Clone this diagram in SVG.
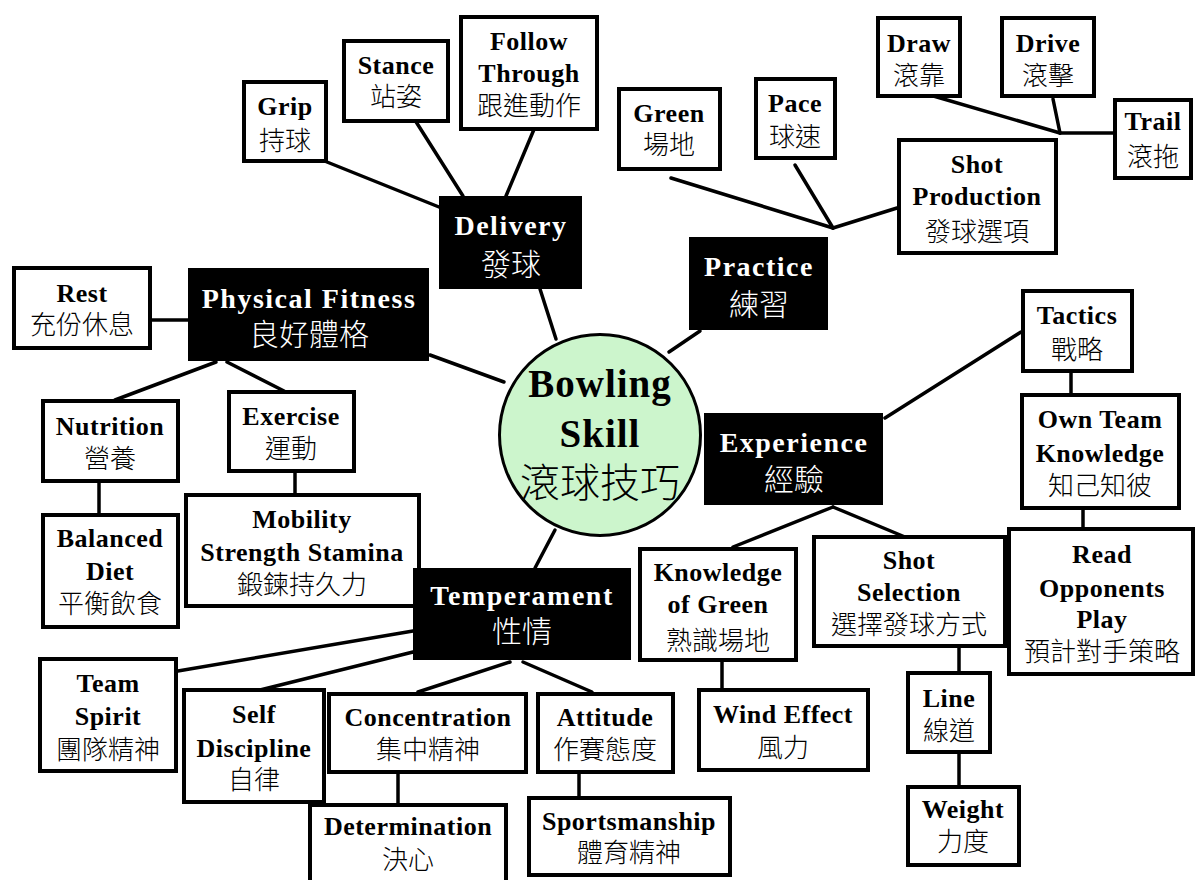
<svg xmlns="http://www.w3.org/2000/svg" width="1195" height="880" viewBox="0 0 1195 880">
<style>
.b{fill:#fff;stroke:#000;stroke-width:4}
.k{fill:#000}
.c line{stroke:#000;stroke-width:3.5;stroke-linecap:round}
.en{font-family:"Liberation Serif","Times New Roman",serif;font-weight:bold;font-size:26px;text-anchor:middle;letter-spacing:0.5px;fill:#000}
.zh{font-family:"Noto Sans CJK TC","Noto Sans CJK SC",sans-serif;font-weight:300;font-size:26px;text-anchor:middle;fill:#000}
.w{fill:#fff}
.ke{font-size:28px;letter-spacing:1.5px}
.kz{font-size:30px}
</style>
<rect width="1195" height="880" fill="#fff"/>
<g class="c" id="connectors">
<line x1="322" y1="160" x2="439" y2="207"/>
<line x1="413" y1="117" x2="463" y2="196"/>
<line x1="535" y1="127" x2="506" y2="196"/>
<line x1="540" y1="289" x2="556" y2="339"/>
<line x1="430" y1="355" x2="504" y2="382"/>
<line x1="700" y1="331" x2="669" y2="352"/>
<line x1="555" y1="530" x2="535" y2="568"/>
<line x1="671" y1="178" x2="833" y2="228"/>
<line x1="795" y1="165" x2="833" y2="228"/>
<line x1="833" y1="228" x2="897" y2="208"/>
<line x1="930" y1="95" x2="1060" y2="133"/>
<line x1="1053" y1="99" x2="1060" y2="133"/>
<line x1="1060" y1="133" x2="1113" y2="133"/>
<line x1="152" y1="320" x2="188" y2="320"/>
<line x1="216" y1="362" x2="115" y2="400"/>
<line x1="227" y1="362" x2="284" y2="391"/>
<line x1="99" y1="483" x2="99" y2="513"/>
<line x1="295" y1="473" x2="295" y2="493"/>
<line x1="885" y1="418" x2="1021" y2="332"/>
<line x1="1071" y1="373" x2="1071" y2="393"/>
<line x1="1083" y1="510" x2="1083" y2="527"/>
<line x1="833" y1="507" x2="733" y2="547"/>
<line x1="833" y1="507" x2="905" y2="537"/>
<line x1="722" y1="662" x2="722" y2="688"/>
<line x1="959" y1="648" x2="959" y2="671"/>
<line x1="959" y1="754" x2="959" y2="785"/>
<line x1="172" y1="672" x2="413" y2="631"/>
<line x1="256" y1="691" x2="413" y2="652"/>
<line x1="510" y1="662" x2="418" y2="692"/>
<line x1="523" y1="662" x2="592" y2="692"/>
<line x1="398" y1="774" x2="398" y2="803"/>
<line x1="579" y1="774" x2="579" y2="796"/>
</g>
<g id="grip"><rect class="b" x="244" y="82" width="82" height="79"/><text class="en" x="285" y="115">Grip</text><text class="zh" x="285" y="150">持球</text></g>
<g id="stance"><rect class="b" x="344" y="41" width="104" height="80"/><text class="en" x="396" y="74">Stance</text><text class="zh" x="396" y="106">站姿</text></g>
<g id="follow"><rect class="b" x="461" y="17" width="136" height="112"/><text class="en" x="529" y="50">Follow</text><text class="en" x="529" y="82">Through</text><text class="zh" x="529" y="115">跟進動作</text></g>
<g id="green"><rect class="b" x="619" y="89" width="101" height="80"/><text class="en" x="669" y="122">Green</text><text class="zh" x="669" y="154">場地</text></g>
<g id="pace"><rect class="b" x="756" y="79" width="79" height="79"/><text class="en" x="795" y="112">Pace</text><text class="zh" x="795" y="146">球速</text></g>
<g id="draw"><rect class="b" x="878" y="18" width="82" height="78"/><text class="en" x="919" y="52">Draw</text><text class="zh" x="919" y="85">滾靠</text></g>
<g id="drive"><rect class="b" x="1002" y="18" width="92" height="78"/><text class="en" x="1048" y="52">Drive</text><text class="zh" x="1048" y="85">滾擊</text></g>
<g id="trail"><rect class="b" x="1115" y="100" width="76" height="78"/><text class="en" x="1153" y="130">Trail</text><text class="zh" x="1153" y="166">滾拖</text></g>
<g id="shotprod"><rect class="b" x="899" y="140" width="157" height="113"/><text class="en" x="977" y="173">Shot</text><text class="en" x="977" y="205">Production</text><text class="zh" x="977" y="241">發球選項</text></g>
<g id="delivery"><rect class="k" x="439" y="196" width="143" height="93"/><text class="en w ke" x="511" y="235">Delivery</text><text class="zh w kz" x="511" y="275">發球</text></g>
<g id="practice"><rect class="k" x="689" y="237" width="139" height="93"/><text class="en w ke" x="759" y="276">Practice</text><text class="zh w kz" x="759" y="315">練習</text></g>
<g id="rest"><rect class="b" x="14" y="268" width="136" height="80"/><text class="en" x="82" y="302">Rest</text><text class="zh" x="82" y="334">充份休息</text></g>
<g id="fitness"><rect class="k" x="188" y="268" width="241" height="93"/><text class="en w ke" x="309" y="308">Physical Fitness</text><text class="zh w kz" x="309" y="345">良好體格</text></g>
<g id="nutrition"><rect class="b" x="43" y="401" width="135" height="80"/><text class="en" x="110" y="435">Nutrition</text><text class="zh" x="110" y="468">營養</text></g>
<g id="exercise"><rect class="b" x="229" y="392" width="125" height="79"/><text class="en" x="291" y="425">Exercise</text><text class="zh" x="291" y="458">運動</text></g>
<g id="diet"><rect class="b" x="43" y="515" width="135" height="112"/><text class="en" x="110" y="547">Balanced</text><text class="en" x="110" y="580">Diet</text><text class="zh" x="110" y="613">平衡飲食</text></g>
<g id="mobility"><rect class="b" x="186" y="495" width="233" height="111"/><text class="en" x="302" y="528">Mobility</text><text class="en" x="302" y="561">Strength Stamina</text><text class="zh" x="302" y="594">鍛鍊持久力</text></g>
<g id="skill"><circle cx="600" cy="435" r="100.5" fill="#ccf5cc" stroke="#000" stroke-width="3"/><text class="en" x="600" y="397" style="font-size:39px;letter-spacing:1px">Bowling</text><text class="en" x="600" y="447" style="font-size:39px;letter-spacing:1px">Skill</text><text class="zh" x="600" y="497" style="font-size:40px">滾球技巧</text></g>
<g id="experience"><rect class="k" x="704" y="413" width="179" height="92"/><text class="en w ke" x="794" y="452">Experience</text><text class="zh w kz" x="794" y="490">經驗</text></g>
<g id="tactics"><rect class="b" x="1023" y="291" width="109" height="80"/><text class="en" x="1077" y="324">Tactics</text><text class="zh" x="1077" y="359">戰略</text></g>
<g id="ownteam"><rect class="b" x="1022" y="395" width="157" height="113"/><text class="en" x="1100" y="428">Own Team</text><text class="en" x="1100" y="462">Knowledge</text><text class="zh" x="1100" y="495">知己知彼</text></g>
<g id="readopp"><rect class="b" x="1009" y="529" width="184" height="145"/><text class="en" x="1102" y="563">Read</text><text class="en" x="1102" y="597">Opponents</text><text class="en" x="1102" y="628">Play</text><text class="zh" x="1102" y="661">預計對手策略</text></g>
<g id="shotsel"><rect class="b" x="814" y="537" width="191" height="109"/><text class="en" x="909" y="569">Shot</text><text class="en" x="909" y="601">Selection</text><text class="zh" x="909" y="634">選擇發球方式</text></g>
<g id="kog"><rect class="b" x="640" y="549" width="156" height="111"/><text class="en" x="718" y="581">Knowledge</text><text class="en" x="718" y="613">of Green</text><text class="zh" x="718" y="650">熟識場地</text></g>
<g id="wind"><rect class="b" x="699" y="690" width="169" height="80"/><text class="en" x="783" y="723">Wind Effect</text><text class="zh" x="783" y="757">風力</text></g>
<g id="line"><rect class="b" x="908" y="673" width="82" height="79"/><text class="en" x="949" y="707">Line</text><text class="zh" x="949" y="740">線道</text></g>
<g id="weight"><rect class="b" x="908" y="787" width="111" height="78"/><text class="en" x="963" y="818">Weight</text><text class="zh" x="963" y="851">力度</text></g>
<g id="temperament"><rect class="k" x="413" y="568" width="218" height="92"/><text class="en w ke" x="522" y="605">Temperament</text><text class="zh w kz" x="522" y="642">性情</text></g>
<g id="teamspirit"><rect class="b" x="40" y="659" width="136" height="112"/><text class="en" x="108" y="692">Team</text><text class="en" x="108" y="725">Spirit</text><text class="zh" x="108" y="759">團隊精神</text></g>
<g id="selfdisc"><rect class="b" x="184" y="690" width="140" height="112"/><text class="en" x="254" y="723">Self</text><text class="en" x="254" y="757">Discipline</text><text class="zh" x="254" y="789">自律</text></g>
<g id="concentration"><rect class="b" x="329" y="694" width="197" height="78"/><text class="en" x="428" y="726">Concentration</text><text class="zh" x="428" y="759">集中精神</text></g>
<g id="attitude"><rect class="b" x="538" y="694" width="135" height="78"/><text class="en" x="605" y="726">Attitude</text><text class="zh" x="605" y="759">作賽態度</text></g>
<g id="determination"><rect class="b" x="310" y="805" width="196" height="80"/><text class="en" x="408" y="835">Determination</text><text class="zh" x="408" y="869">決心</text></g>
<g id="sportsmanship"><rect class="b" x="529" y="798" width="201" height="77"/><text class="en" x="629" y="830">Sportsmanship</text><text class="zh" x="629" y="862">體育精神</text></g>
</svg>
